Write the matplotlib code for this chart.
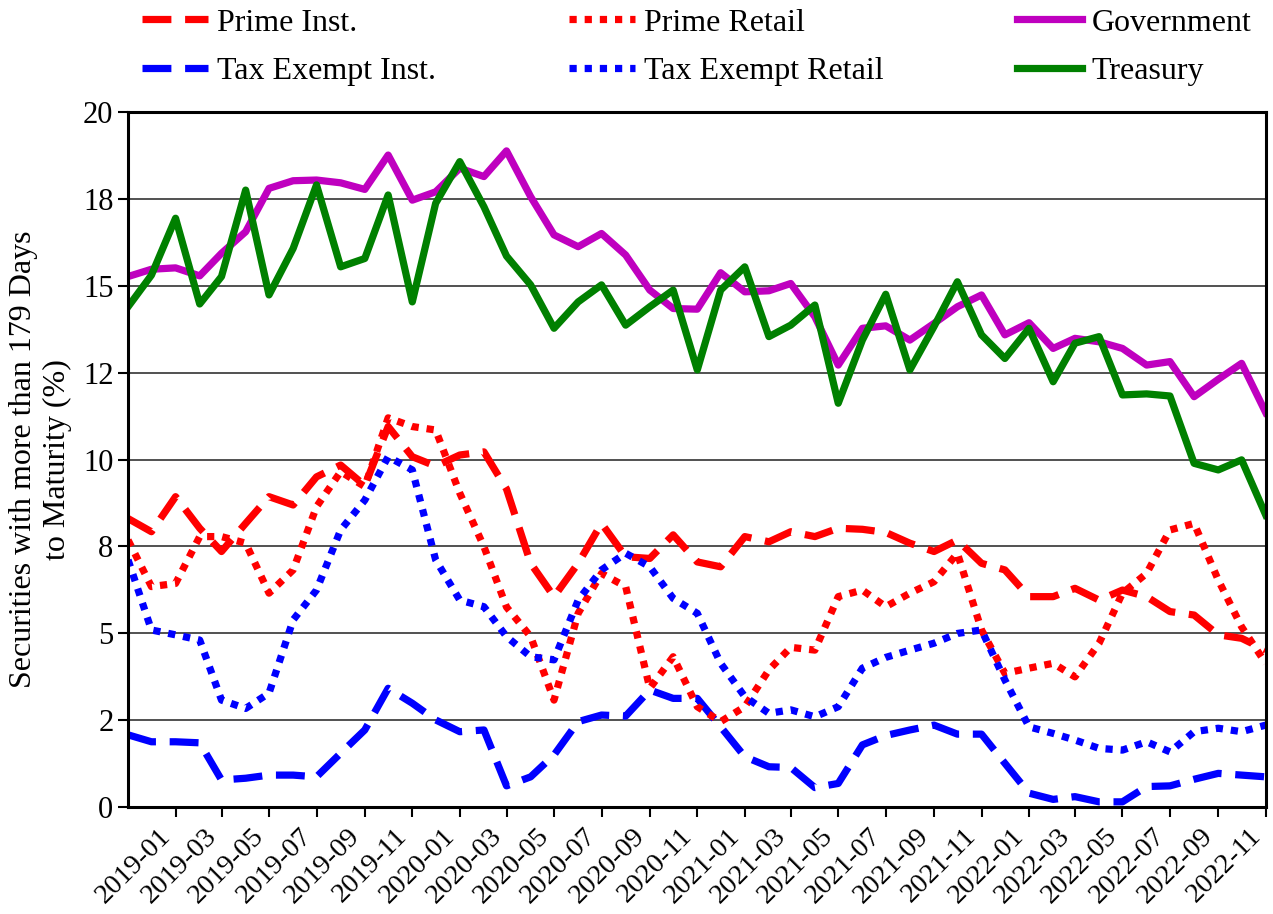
import pandas as pd
import matplotlib
matplotlib.use("Agg")
import matplotlib.pyplot as plt
from matplotlib.ticker import MultipleLocator, FormatStrFormatter

plt.rcParams["font.family"] = "serif"
plt.rcParams["font.serif"] = ["Liberation Serif", "DejaVu Serif"]
plt.rcParams["font.size"] = 23

# monthly values, 2018-11 .. 2022-11 (%)
months = pd.date_range("2018-11-01", "2022-11-01", freq="MS")

prime_inst = [8.30, 7.92, 8.93, 8.02, 7.35, 8.16, 8.93, 8.69, 9.50, 9.84,
              9.25, 10.95, 10.08, 9.81, 10.13, 10.22, 9.15, 7.01, 6.05, 7.01,
              8.16, 7.20, 7.15, 7.83, 7.05, 6.91, 7.78, 7.63, 7.92, 7.78,
              8.02, 7.99, 7.90, 7.59, 7.35, 7.68, 7.01, 6.82, 6.05, 6.05,
              6.29, 5.95, 6.24, 6.05, 5.62, 5.52, 4.95, 4.85, 4.51]
prime_retail = [7.68, 6.34, 6.43, 7.78, 7.78, 7.59, 6.15, 6.82, 8.64, 9.65,
                9.22, 11.20, 10.95, 10.85, 9.03, 7.49, 5.75, 4.90, 3.07, 5.57,
                6.72, 6.34, 3.41, 4.32, 2.88, 2.45, 2.88, 3.94, 4.59, 4.51,
                6.05, 6.24, 5.76, 6.15, 6.48, 7.30, 5.09, 3.84, 3.99, 4.13,
                3.74, 4.71, 6.15, 6.72, 7.97, 8.16, 6.53, 5.18, 4.13]
tax_inst = [2.07, 1.87, 1.87, 1.84, 0.77, 0.82, 0.91, 0.91, 0.86, 1.54,
            2.21, 3.41, 2.98, 2.50, 2.16, 2.21, 0.60, 0.86, 1.49, 2.45,
            2.64, 2.61, 3.36, 3.12, 3.12, 2.30, 1.44, 1.15, 1.13, 0.55,
            0.67, 1.78, 2.05, 2.21, 2.35, 2.09, 2.09, 1.25, 0.39, 0.21,
            0.29, 0.14, 0.14, 0.58, 0.60, 0.79, 0.96, 0.91, 0.86]
tax_retail = [7.11, 5.09, 4.95, 4.80, 3.07, 2.83, 3.27, 5.38, 6.24, 7.97,
              8.83, 10.08, 9.70, 7.11, 5.95, 5.76, 4.90, 4.32, 4.23, 5.95,
              6.82, 7.30, 6.91, 6.00, 5.57, 4.13, 3.17, 2.69, 2.79, 2.59,
              2.88, 3.99, 4.30, 4.51, 4.71, 4.99, 5.09, 3.65, 2.30, 2.11,
              1.92, 1.68, 1.63, 1.87, 1.58, 2.16, 2.26, 2.16, 2.35]
government = [15.27, 15.48, 15.52, 15.29, 15.94, 16.56, 17.81, 18.03, 18.05, 17.97,
              17.78, 18.77, 17.47, 17.71, 18.39, 18.15, 18.89, 17.57, 16.47, 16.13,
              16.51, 15.89, 14.88, 14.35, 14.33, 15.38, 14.83, 14.86, 15.07, 14.11,
              12.72, 13.78, 13.85, 13.44, 13.92, 14.40, 14.74, 13.59, 13.94, 13.20,
              13.49, 13.39, 13.20, 12.72, 12.82, 11.81, 12.31, 12.77, 11.35]
treasury = [14.40, 15.31, 16.95, 14.48, 15.27, 17.76, 14.74, 16.08, 17.91, 15.55,
            15.79, 17.62, 14.54, 17.38, 18.58, 17.28, 15.86, 15.03, 13.78, 14.54,
            15.03, 13.87, 14.40, 14.88, 12.58, 14.88, 15.55, 13.54, 13.87, 14.45,
            11.62, 13.44, 14.76, 12.58, 13.83, 15.12, 13.59, 12.91, 13.78, 12.24,
            13.35, 13.54, 11.86, 11.89, 11.83, 9.89, 9.70, 9.99, 8.40]

tick_months = pd.date_range("2019-01-01", "2022-11-01", freq="2MS")

dashed = (0, (4.0, 1.9))
dotted = (0, (1.0, 1.1))

fig = plt.figure(figsize=(12.73, 9.14), dpi=100)
ax = fig.add_axes([0.1006, 0.1174, 0.8937, 0.7597])

lw = 5.2
ax.plot(months, prime_inst, color="r", ls=dashed, lw=lw, label="Prime Inst.")
ax.plot(months, tax_inst, color="b", ls=dashed, lw=lw, label="Tax Exempt Inst.")
ax.plot(months, prime_retail, color="r", ls=dotted, lw=lw, label="Prime Retail")
ax.plot(months, tax_retail, color="b", ls=dotted, lw=lw, label="Tax Exempt Retail")
ax.plot(months, government, color="m", lw=lw, label="Government")
ax.plot(months, treasury, color="g", lw=lw, label="Treasury")

ax.set_xlim(months[0], months[-1])
ax.set_ylim(0, 20)
ax.yaxis.set_major_locator(MultipleLocator(2.5))
ax.yaxis.set_major_formatter(FormatStrFormatter("%.0f"))
ax.grid(axis="y", color="#333333", lw=1.2)
ax.set_axisbelow(True)

ax.set_xticks(tick_months)
ax.set_xticklabels([d.strftime("%Y-%m") for d in tick_months], rotation=45, ha="right")
ax.tick_params(axis="both", direction="out", length=7, width=1.5)
ax.tick_params(axis="x", labelsize=20.5, pad=5)
ax.tick_params(axis="y", labelsize=22)

for s in ax.spines.values():
    s.set_linewidth(2.2)

ax.set_ylabel("Securities with more than 179 Days\nto Maturity (%)", fontsize=23, labelpad=8)

ax.legend(loc="lower center", bbox_to_anchor=(0.5, 1.0), ncol=3, frameon=False,
          fontsize=23, handlelength=2.06, handletextpad=0.3, columnspacing=4.15,
          labelspacing=0.61, borderaxespad=0.41)

fig.savefig("out.png", dpi=100)
